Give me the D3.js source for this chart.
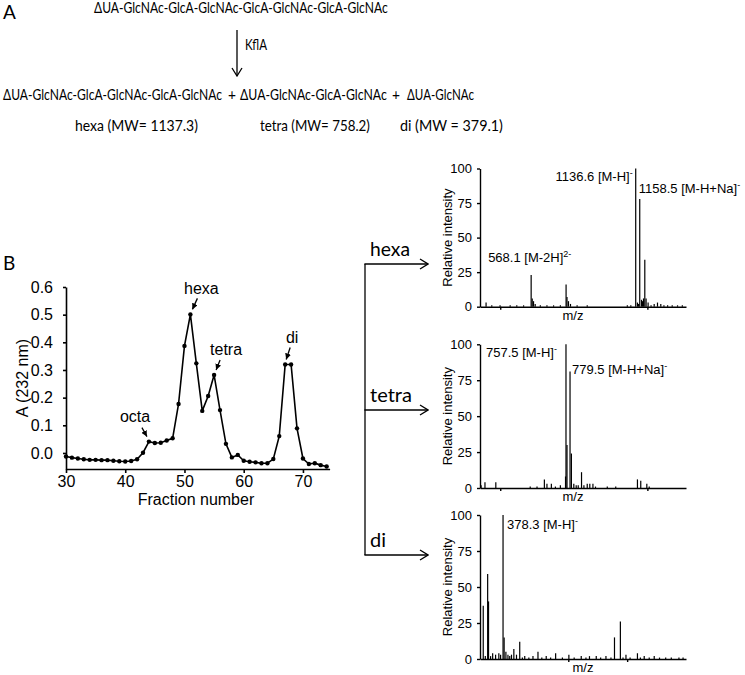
<!DOCTYPE html>
<html>
<head>
<meta charset="utf-8">
<script src="https://cdn.jsdelivr.net/npm/d3@7"></script>
<style>
  body { margin: 0; background: #fff; }
  text { fill: #000; }
  .ari { font-family: "Liberation Sans", Arial, sans-serif; }
  .cal { font-family: Lato, "Open Sans", sans-serif; }
  .axis path, .axis line { stroke: #000; }
</style>
</head>
<body>
<div id="chart"></div>
<script>
////////////////////////////////////////////////////////////////////
////////////////////////////  Data  ////////////////////////////////
const fractions = [30, 31, 32, 33, 34, 35, 36, 37, 38, 39, 40, 41, 42, 43, 44,
  45, 46, 47, 48, 49, 50, 51, 52, 53, 54, 55, 56, 57, 58, 59, 60, 61, 62, 63,
  64, 65, 66, 67, 68, 69, 70, 71, 72, 73, 74];
const absorbance = [-0.013, -0.017, -0.020, -0.023, -0.025, -0.025, -0.026,
  -0.026, -0.028, -0.030, -0.031, -0.029, -0.023, 0.001, 0.041, 0.036, 0.037,
  0.045, 0.053, 0.177, 0.387, 0.501, 0.324, 0.152, 0.206, 0.282, 0.155, 0.033,
  -0.016, -0.007, -0.028, -0.032, -0.034, -0.037, -0.037, -0.022, 0.061, 0.320,
  0.320, 0.089, -0.020, -0.040, -0.037, -0.044, -0.049];
const absTicks = [0, 0.1, 0.2, 0.3, 0.4, 0.5, 0.6];
const fracTicks = [30, 40, 50, 60, 70];
const peakNames = ["octa", "hexa", "tetra", "di"];
const peakFractions = [44, 51, 55, 67];

const intensityTicks = [0, 25, 50, 75, 100];

// [m/z, relative intensity]
const hexaPeaks = [[323, 3], [354, 1], [399, 1], [454, 1], [490, 1], [527, 1],
  [568.1, 23], [574, 6], [581, 4], [590, 2], [618, 1], [654, 1], [690, 1],
  [727, 1], [758, 16], [763, 7], [771, 4], [782, 2], [818, 1], [873, 1],
  [1091, 1], [1110, 1], [1136.6, 100], [1146, 3], [1152, 2], [1158.5, 78],
  [1168, 5], [1174, 4], [1179, 6], [1186, 34], [1193, 6], [1204, 3], [1220, 1],
  [1237, 2], [1255, 3], [1273, 2], [1290, 1], [1310, 1], [1335, 1], [1364, 1],
  [1390, 1]];
const tetraPeaks = [[296, 2], [317, 4], [376, 4], [563, 1], [600, 1], [640, 6],
  [654, 3], [678, 3], [700, 1], [727, 2], [755, 8], [757.5, 100], [763, 30],
  [779.5, 81], [787, 24], [800, 3], [813, 2], [824, 2], [842, 11], [855, 2],
  [873, 3], [887, 3], [904, 3], [918, 1], [982, 1], [1028, 1], [1146, 6],
  [1164, 5], [1197, 3], [1210, 1]];
const diPeaks = [[311, 37], [318, 2], [326, 59], [329, 40], [336, 2], [343, 4],
  [353, 3], [364, 4], [370, 3], [378.3, 100], [382, 15], [388, 5], [395, 3],
  [401, 2], [407, 3], [415, 7], [424, 3], [435, 12], [444, 1], [452, 2],
  [466, 1], [480, 2], [497, 5], [510, 1], [525, 2], [540, 1], [557, 4],
  [580, 1], [602, 3], [620, 1], [644, 2], [660, 1], [672, 2], [695, 2],
  [710, 1], [728, 2], [745, 1], [757, 15], [777, 26], [786, 1], [796, 3],
  [810, 1], [835, 4], [845, 1], [858, 2], [875, 1], [892, 2], [910, 1],
  [931, 1], [950, 1], [976, 1], [990, 1]];

const hexaIons = [
  { mz: 1136.6, text: "1136.6 [M-H]", sup: "-", at: 91 },
  { mz: 1158.5, text: "1158.5 [M-H+Na]", sup: "-", at: 82 },
  { mz: 568.1, text: "568.1 [M-2H]", sup: "2-", at: 32 }
];
const tetraIons = [
  { mz: 757.5, text: "757.5 [M-H]", sup: "-", at: 91 },
  { mz: 779.5, text: "779.5 [M-H+Na]", sup: "-", at: 79 }
];
const diIons = [
  { mz: 378.3, text: "378.3 [M-H]", sup: "-", at: 90 }
];

////////////////////////////////////////////////////////////////////
////////////////////////////  Init  ////////////////////////////////
const width = 745;
const height = 675;
const svg = d3.select("#chart").append("svg")
  .attr("width", width).attr("height", height);

const defs = svg.append("defs");
defs.append("marker").attr("id", "tri")
  .attr("viewBox", "0 0 10 10").attr("refX", 10).attr("refY", 5)
  .attr("markerUnits", "userSpaceOnUse")
  .attr("markerWidth", 6).attr("markerHeight", 6).attr("orient", "auto")
  .append("path").attr("d", "M0,0L10,5L0,10z").attr("fill", "#000");
defs.append("marker").attr("id", "chev")
  .attr("viewBox", "0 0 10 12").attr("refX", 9).attr("refY", 6)
  .attr("markerUnits", "userSpaceOnUse")
  .attr("markerWidth", 10).attr("markerHeight", 12).attr("orient", "auto")
  .append("path").attr("d", "M1,1L9,6L1,11").attr("fill", "none")
  .attr("stroke", "#000").attr("stroke-width", 1.3);

// humanist text, squeezed horizontally to the width it has in the figure
function label(x, y, size, t, w) {
  const s = svg.append("text").attr("class", "cal")
    .attr("font-size", size).text(t);
  const sx = w ? w / s.node().getComputedTextLength() : 1;
  s.attr("transform", `translate(${x},${y}) scale(${sx},1)`);
  return s;
}

////////////////////////////////////////////////////////////////////
////////////////////////////  Panel A  /////////////////////////////
label(3, 19, 19, "A");
label(94, 13, 14.5, "ΔUA-GlcNAc-GlcA-GlcNAc-GlcA-GlcNAc-GlcA-GlcNAc", 294);

svg.append("line").attr("x1", 237).attr("x2", 237).attr("y1", 30).attr("y2", 76)
  .attr("stroke", "#000").attr("stroke-width", 1.3).attr("marker-end", "url(#chev)");
label(245, 50, 14.5, "KflA", 22);

label(3, 100, 14.5, "ΔUA-GlcNAc-GlcA-GlcNAc-GlcA-GlcNAc", 219);
label(228, 100, 14.5, "+", 8);
label(240, 100, 14.5, "ΔUA-GlcNAc-GlcA-GlcNAc", 147);
label(392, 100, 14.5, "+", 8);
label(407, 100, 14.5, "ΔUA-GlcNAc", 67);

label(75, 131, 14.5, "hexa (MW= 1137.3)", 123);
label(260, 131, 14.5, "tetra (MW= 758.2)", 110);
label(400, 131, 14.5, "di (MW = 379.1)", 103);

////////////////////////////////////////////////////////////////////
////////////////////////////  Panel B  /////////////////////////////
label(3, 270, 19, "B");

// elution profile
const xL = d3.scaleLinear().domain([30, 74.5]).range([66, 329.6]);
const yL = d3.scaleLinear().domain([-0.058, 0.6]).range([469, 287]);

const gL = svg.append("g").attr("class", "ari");
gL.append("g").attr("class", "axis")
  .attr("transform", "translate(0,469)")
  .call(d3.axisBottom(xL).tickValues(fracTicks).tickSize(4).tickPadding(3).tickSizeOuter(0))
  .call((g) => g.selectAll("text").attr("font-size", 16).attr("font-family", "Liberation Sans, Arial"))
  .call((g) => g.selectAll("path,line").attr("stroke-width", 1.6));
gL.append("g").attr("class", "axis")
  .attr("transform", "translate(66,0)")
  .call(d3.axisLeft(yL).tickValues(absTicks).tickFormat(d3.format(".1f")).tickSize(3).tickPadding(10).tickSizeOuter(0))
  .call((g) => g.selectAll("text").attr("font-size", 16).attr("font-family", "Liberation Sans, Arial"))
  .call((g) => g.selectAll("path,line").attr("stroke-width", 1.6));

gL.append("text").attr("x", 196).attr("y", 505).attr("text-anchor", "middle")
  .attr("font-size", 16).text("Fraction number");
gL.append("text").attr("transform", "translate(28,378) rotate(-90)")
  .attr("text-anchor", "middle").attr("font-size", 16).text("A (232 nm)");

const profile = fractions.map((f, i) => [f, absorbance[i]]);
gL.append("path").datum(profile)
  .attr("d", d3.line().x((d) => xL(d[0])).y((d) => yL(d[1])))
  .attr("fill", "none").attr("stroke", "#000").attr("stroke-width", 1.6);
gL.selectAll(".pt").data(profile).enter().append("circle")
  .attr("cx", (d) => xL(d[0])).attr("cy", (d) => yL(d[1]))
  .attr("r", 2.2).attr("fill", "#000");

// peak call-outs: text position and arrow relative to the marked point
const callout = {
  octa: { tx: 135, ty: -20, ax1: -7, ay1: -14, ax2: -2, ay2: -5 },
  hexa: { tx: 11, ty: -20, ax1: 7, ay1: -16, ax2: 2, ay2: -5 },
  tetra: { tx: 12, ty: -20, ax1: 6, ay1: -15, ax2: 2, ay2: -5 },
  di: { tx: 7, ty: -21, ax1: 5, ay1: -17, ax2: 1, ay2: -5 }
};
peakNames.forEach((name, i) => {
  const f = peakFractions[i];
  const px = xL(f), py = yL(absorbance[fractions.indexOf(f)]);
  const c = callout[name];
  const tx = name === "octa" ? c.tx : px + c.tx;
  gL.append("text").attr("x", tx).attr("y", py + c.ty)
    .attr("text-anchor", "middle").attr("font-size", 16).text(name);
  gL.append("line")
    .attr("x1", px + c.ax1).attr("y1", py + c.ay1)
    .attr("x2", px + c.ax2).attr("y2", py + c.ay2)
    .attr("stroke", "#000").attr("stroke-width", 1.3).attr("marker-end", "url(#tri)");
});

// branching arrows to the spectra
svg.append("line").attr("x1", 365).attr("x2", 365).attr("y1", 264).attr("y2", 555)
  .attr("stroke", "#000").attr("stroke-width", 1.3);
const branch = [
  { t: "hexa", y: 264, w: 40 },
  { t: "tetra", y: 410, w: 42 },
  { t: "di", y: 555, w: 16 }
];
svg.selectAll(".br").data(branch).enter().append("line")
  .attr("x1", 364.4).attr("x2", 428).attr("y1", (d) => d.y).attr("y2", (d) => d.y)
  .attr("stroke", "#000").attr("stroke-width", 1.3).attr("marker-end", "url(#chev)");
branch.forEach((d) => label(370, d.y - 8, 18.5, d.t, d.w));

// mass spectra
const panels = [
  { peaks: hexaPeaks, ions: hexaIons, top: 168.5, bottom: 306.7, domain: [290, 1410], ticks: [400, 1200], mzX: 573 },
  { peaks: tetraPeaks, ions: tetraIons, top: 344.3, bottom: 488, domain: [290, 1410], ticks: [400, 1200], mzX: 573 },
  { peaks: diPeaks, ions: diIons, top: 515, bottom: 659, domain: [300, 1000], ticks: [600, 800], mzX: 583 }
];
// label anchor per ion: side of the line the text sits on and gap
const ionPlacement = {
  "1136.6": { anchor: "end", dx: -3 },
  "1158.5": { anchor: "start", dx: -1 },
  "568.1": { anchor: "start", dx: -43 },
  "757.5": { anchor: "start", dx: -80 },
  "779.5": { anchor: "start", dx: 2 },
  "378.3": { anchor: "start", dx: 4 }
};

panels.forEach((p) => {
  const g = svg.append("g").attr("class", "ari");
  const x = d3.scaleLinear().domain(p.domain).range([480, 686]);
  const y = d3.scaleLinear().domain([0, 100]).range([p.bottom, p.top]);

  g.selectAll(".pk").data(p.peaks).enter().append("line")
    .attr("x1", (d) => x(d[0])).attr("x2", (d) => x(d[0]))
    .attr("y1", y(0)).attr("y2", (d) => y(d[1]))
    .attr("stroke", "#000").attr("stroke-width", 1.2);

  g.append("g").attr("class", "axis").attr("transform", `translate(0,${p.bottom})`)
    .call(d3.axisBottom(x).tickValues(p.ticks).tickFormat("").tickSize(3).tickSizeOuter(0))
    .call((a) => a.selectAll("path,line").attr("stroke-width", 1.4));
  g.append("g").attr("class", "axis").attr("transform", "translate(480,0)")
    .call(d3.axisLeft(y).tickValues(intensityTicks).tickSize(3).tickPadding(5).tickSizeOuter(0))
    .call((a) => a.selectAll("text").attr("font-size", 13).attr("font-family", "Liberation Sans, Arial"))
    .call((a) => a.selectAll("path,line").attr("stroke-width", 1.4));

  g.append("text").attr("x", p.mzX).attr("y", p.bottom + 13)
    .attr("text-anchor", "middle").attr("font-size", 13).text("m/z");
  g.append("text")
    .attr("transform", `translate(452,${(p.top + p.bottom) / 2}) rotate(-90)`)
    .attr("text-anchor", "middle").attr("font-size", 13).text("Relative intensity");

  p.ions.forEach((ion) => {
    const pl = ionPlacement[String(ion.mz)];
    const t = g.append("text").attr("x", x(ion.mz) + pl.dx).attr("y", y(ion.at))
      .attr("text-anchor", pl.anchor).attr("font-size", 13);
    t.append("tspan").text(ion.text);
    t.append("tspan").attr("font-size", 9).attr("dy", -5).text(ion.sup);
  });
});
</script>
</body>
</html>
